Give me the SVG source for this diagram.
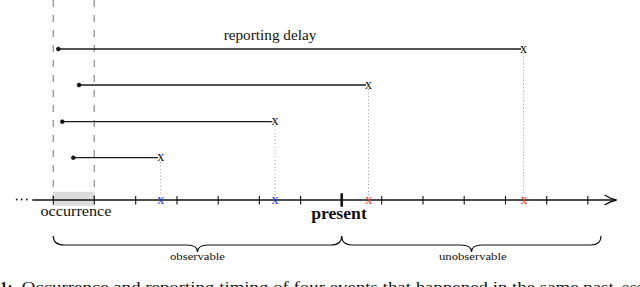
<svg xmlns="http://www.w3.org/2000/svg" width="640" height="287" viewBox="0 0 640 287">
<style>
.serif{font-family:"Liberation Serif","DejaVu Serif",serif;fill:#111}
.ev{stroke:#1a1a1a;stroke-width:1.3;fill:none}
.dot{fill:#111;stroke:#111;stroke-width:0.7}
.dotted{stroke:#999;stroke-width:1;stroke-dasharray:1 2.4;fill:none}
.dash{stroke:#9a9a9a;stroke-width:1.4;stroke-dasharray:7 8;fill:none}
.tick{stroke:#111;stroke-width:1.1}
.mk{font-family:"Liberation Serif","DejaVu Serif",serif;font-size:14px;text-anchor:middle}
.brace{stroke:#111;stroke-width:1.2;fill:none}
</style>
<rect width="640" height="287" fill="#fff"/>

<g id="occurrence-window">
  <rect x="53.3" y="192" width="41" height="13.5" fill="#dcdcdc" stroke="#c8c8c8" stroke-width="0.6" stroke-dasharray="1 1"/>
  <line class="dash" x1="53.3" y1="0" x2="53.3" y2="200"/>
  <line class="dash" x1="94.3" y1="0" x2="94.3" y2="200"/>
  <text class="serif" x="76" y="216" font-size="14.5" text-anchor="middle" textLength="71" lengthAdjust="spacingAndGlyphs">occurrence</text>
</g>

<g id="connectors">
  <line class="dotted" x1="523.5" y1="53" x2="523.5" y2="196"/>
  <line class="dotted" x1="368.5" y1="89" x2="368.5" y2="196"/>
  <line class="dotted" x1="275" y1="126" x2="275" y2="196"/>
  <line class="dotted" x1="160.7" y1="162" x2="160.7" y2="196"/>
</g>

<g id="timeline">
  <circle cx="16.7" cy="199.5" r="0.9" fill="#111"/>
  <circle cx="21.7" cy="199.5" r="0.9" fill="#111"/>
  <circle cx="26.7" cy="199.5" r="0.9" fill="#111"/>
  <line x1="32.3" y1="200" x2="616" y2="200" stroke="#111" stroke-width="1.3"/>
  <path d="M604.5,195 Q611,199 616.7,200 Q611,201 604.5,205" fill="none" stroke="#111" stroke-width="1.3"/>
  <g class="tick">
    <line x1="53.3" y1="196" x2="53.3" y2="204.5"/>
    <line x1="94.3" y1="196" x2="94.3" y2="204.5"/>
    <line x1="135.7" y1="196" x2="135.7" y2="204.5"/>
    <line x1="177" y1="196" x2="177" y2="204.5"/>
    <line x1="218.2" y1="196" x2="218.2" y2="204.5"/>
    <line x1="259.4" y1="196" x2="259.4" y2="204.5"/>
    <line x1="300.6" y1="196" x2="300.6" y2="204.5"/>
    <line x1="381.7" y1="196" x2="381.7" y2="204.5"/>
    <line x1="423" y1="196" x2="423" y2="204.5"/>
    <line x1="464.2" y1="196" x2="464.2" y2="204.5"/>
    <line x1="505.5" y1="196" x2="505.5" y2="204.5"/>
    <line x1="546.7" y1="196" x2="546.7" y2="204.5"/>
    <line x1="587.8" y1="196" x2="587.8" y2="204.5"/>
  </g>
  <line x1="341.7" y1="193.3" x2="341.7" y2="206.7" stroke="#111" stroke-width="2.6"/>
  <text class="serif" x="339" y="219" font-size="16" font-weight="bold" text-anchor="middle" textLength="55.7" lengthAdjust="spacingAndGlyphs">present</text>
  <text class="mk" x="160.7" y="203.8" fill="#2a2aff">x</text>
  <text class="mk" x="275" y="203.8" fill="#2a2aff">x</text>
  <text class="mk" x="368.8" y="203.8" fill="#ff3030">x</text>
  <text class="mk" x="524" y="203.8" fill="#ff3030">x</text>
</g>

<g id="event1">
  <line class="ev" x1="58.3" y1="49" x2="521" y2="49"/>
  <circle class="dot" cx="58.3" cy="49" r="1.9"/>
  <text class="mk" x="523.5" y="52.5" fill="#111">x</text>
  <text class="serif" x="270" y="40" font-size="14" text-anchor="middle" textLength="92.7" lengthAdjust="spacingAndGlyphs">reporting delay</text>
</g>
<g id="event2">
  <line class="ev" x1="79" y1="85" x2="366" y2="85"/>
  <circle class="dot" cx="79" cy="85" r="1.9"/>
  <text class="mk" x="368.5" y="88.5" fill="#111">x</text>
</g>
<g id="event3">
  <line class="ev" x1="62.3" y1="121.7" x2="272.5" y2="121.7"/>
  <circle class="dot" cx="62.3" cy="121.7" r="1.9"/>
  <text class="mk" x="275" y="125.2" fill="#111">x</text>
</g>
<g id="event4">
  <line class="ev" x1="73.3" y1="157.7" x2="158" y2="157.7"/>
  <circle class="dot" cx="73.3" cy="157.7" r="1.9"/>
  <text class="mk" x="160.7" y="161.2" fill="#111">x</text>
</g>

<g id="observable">
  <path class="brace" d="M53.3,236 Q53.3,245 64,245 L187,245 Q197.5,245 197.5,252 Q197.5,245 208,245 L331,245 Q341.7,245 341.7,236"/>
  <text class="serif" x="197.5" y="260" font-size="10" text-anchor="middle" textLength="55" lengthAdjust="spacingAndGlyphs">observable</text>
</g>
<g id="unobservable">
  <path class="brace" d="M341.7,236 Q341.7,245 352,245 L461,245 Q471.5,245 471.5,252 Q471.5,245 482,245 L591,245 Q601,245 601,236"/>
  <text class="serif" x="472.8" y="260" font-size="10" text-anchor="middle" textLength="67.7" lengthAdjust="spacingAndGlyphs">unobservable</text>
</g>

<g id="caption">
  <text class="serif" x="0" y="292" font-size="15" font-weight="bold">1:</text>
  <text class="serif" x="21.7" y="292" font-size="15" textLength="592" lengthAdjust="spacingAndGlyphs">Occurrence and reporting timing of four events that happened in the same past</text>
  <text class="serif" x="622" y="292" font-size="15">occurrence</text>
</g>
</svg>
